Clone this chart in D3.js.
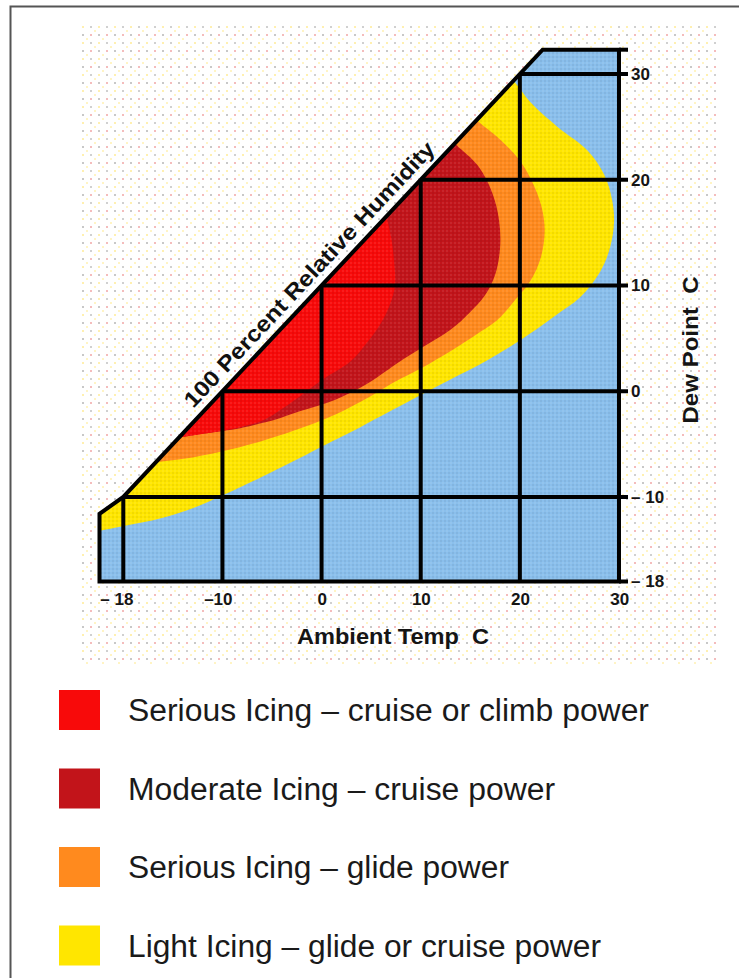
<!DOCTYPE html>
<html><head><meta charset="utf-8">
<script src="https://cdn.jsdelivr.net/npm/d3@7"></script>
<style>
body{margin:0;background:#fff}
svg{display:block}
text{font-family:"Liberation Sans",Arial,Helvetica,sans-serif}
</style>
</head><body>
<svg id="chart" width="739" height="978"></svg>
<script>
// ---------- data ----------
const xDomain = [-22.4, 30];
const yDomain = [-18, 32.3];
const xTickValues = [-20, -10, 0, 10, 20, 30];
const xTickLabels = ["\u2013 18", "\u201310", "0", "10", "20", "30"];
const yTickValues = [-18, -10, 0, 10, 20, 30];
const yTickLabels = ["\u2013 18", "\u2013 10", "0", "10", "20", "30"];
// chart outline (ambient temp, dew point)
const frame = [[-22.4, -18], [-22.4, -11.6], [-20, -10], [22.3, 32.3], [30, 32.3], [30, -18]];
// zone outer boundaries (ambient temp, dew point), from upper diagonal to lower-left
const yellowEdge = [[18.5,30.2],[19.6,29.1],[21.0,27.4],[23.8,25.0],[26.8,22.8],[28.5,20.5],[29.3,18.1],[29.5,16.0],[29.1,13.6],[28.1,11.3],[26.1,8.9],[23.5,7.1],[20.0,4.8],[16.5,2.8],[13.0,1.1],[9.9,-0.4],[6.9,-1.9],[3.9,-3.4],[0.1,-5.2],[-3.2,-6.8],[-6.0,-8.1],[-10.1,-9.9],[-12.8,-11.0],[-16.1,-12.0],[-20.2,-12.8],[-23.5,-13.4]];
const orangeEdge = [[15.0,26.2],[15.8,25.5],[18.0,23.8],[20.0,21.8],[21.3,19.7],[22.2,17.4],[22.5,15.1],[22.1,12.6],[21.1,10.5],[19.5,8.6],[17.7,6.7],[15.5,5.3],[13.2,3.9],[10.1,2.2],[7.4,0.9],[4.9,-0.5],[1.4,-2.2],[-2.7,-3.7],[-6.0,-4.7],[-10.1,-5.7],[-13.9,-6.4],[-16.5,-6.7],[-17.8,-6.8]];
const darkRedEdge = [[13.0,23.8],[13.7,23.2],[15.8,21.3],[17.2,18.8],[17.9,16.2],[18.0,13.5],[17.5,11.0],[16.5,9.1],[15.0,7.5],[13.0,5.8],[10.1,4.1],[7.9,2.8],[4.6,0.7],[1.4,-0.8],[-2.2,-1.9],[-4.7,-2.7],[-6.0,-3.0],[-8.2,-3.5],[-11.8,-4.0],[-14.5,-4.4],[-15.8,-4.6]];
const redEdge = [[5.9,17.0],[6.5,16.4],[7.0,14.6],[7.3,12.4],[7.4,10.0],[6.9,8.2],[5.9,6.3],[4.6,4.6],[2.9,2.8],[0.1,1.1],[-2.2,-0.5],[-4.2,-1.8],[-6.0,-2.8],[-8.2,-3.4],[-11.8,-4.0],[-14.5,-4.4],[-15.8,-4.6]];
const zoneEdges = [yellowEdge, orangeEdge, darkRedEdge, redEdge];
const zoneColors = ["#ffe600", "#ff8a1e", "#c2141a", "#f80a0a"];
const backgroundColor = "#8abfec";
const legendLabels = ["Serious Icing \u2013 cruise or climb power", "Moderate Icing \u2013 cruise power", "Serious Icing \u2013 glide power", "Light Icing \u2013 glide or cruise power"];
const legendColors = ["#f80a0a", "#c2141a", "#ff8a1e", "#ffe600"];
const legendWidths = [521, 427, 381, 473];

// ---------- drawing ----------
const svg = d3.select("#chart");
const x = d3.scaleLinear().domain(xDomain).range([99.5, 619]);
const y = d3.scaleLinear().domain(yDomain).range([581.5, 49.7]);

// outer border
svg.append("path").attr("d", "M10.5,978V6.5H739").attr("fill", "none").attr("stroke", "#555").attr("stroke-width", 2);

// dotted backdrop
const defs = svg.append("defs");
const pat = defs.append("pattern").attr("id", "dots").attr("patternUnits", "userSpaceOnUse")
  .attr("width", 16).attr("height", 16);
[[2,2,"#c8c8c8"],[10,2,"#f4bcbc"],[2,10,"#fff0b0"],[10,10,"#d0d0d0"],[6,6,"#fff4c4"],[14,14,"#fff4c4"]]
  .forEach(([cx, cy, c]) => pat.append("rect").attr("x", cx).attr("y", cy).attr("width", 2).attr("height", 2).attr("fill", c));
svg.append("rect").attr("x", 80).attr("y", 24).attr("width", 638).attr("height", 640).attr("fill", "url(#dots)");

const line = d3.line().x(d => x(d[0])).y(d => y(d[1]));
defs.append("clipPath").attr("id", "frameClip").append("path").attr("d", line(frame) + "Z");

const plot = svg.append("g").attr("clip-path", "url(#frameClip)");
plot.append("path").attr("d", line(frame) + "Z").attr("fill", backgroundColor);

const smooth = d3.line().x(d => x(d[0])).y(d => y(d[1])).curve(d3.curveCatmullRom.alpha(0.5));
zoneEdges.forEach((pts, i) => {
  const first = pts[0], last = pts[pts.length - 1];
  const farT = xDomain[0] - 10, farD = yDomain[1] + 15;
  const d = smooth(pts) + `L${x(farT)},${y(last[1])}L${x(farT)},${y(farD)}L${x(first[0])},${y(farD)}Z`;
  plot.append("path").attr("d", d).attr("fill", zoneColors[i]);
});

// subtle halftone texture over the plot
const tex = defs.append("pattern").attr("id", "tex").attr("patternUnits", "userSpaceOnUse").attr("width", 4).attr("height", 4);
tex.append("rect").attr("x", 0).attr("y", 0).attr("width", 2).attr("height", 2).attr("fill", "#000").attr("opacity", 0.05);
tex.append("rect").attr("x", 2).attr("y", 2).attr("width", 2).attr("height", 2).attr("fill", "#fff").attr("opacity", 0.08);
plot.append("path").attr("d", line(frame) + "Z").attr("fill", "url(#tex)");

// grid lines
const gridG = svg.append("g").attr("stroke", "#000").attr("stroke-width", 4).attr("stroke-linecap", "butt");
const tickLen = 9;
yTickValues.filter(v => v > yDomain[0]).forEach(v => {
  gridG.append("line").attr("x1", x(v - 10)).attr("x2", x(xDomain[1]) + tickLen).attr("y1", y(v)).attr("y2", y(v));
});
gridG.append("line").attr("x1", x(xDomain[1])).attr("x2", x(xDomain[1]) + tickLen).attr("y1", y(yDomain[1])).attr("y2", y(yDomain[1]));
gridG.append("line").attr("x1", x(xDomain[1])).attr("x2", x(xDomain[1]) + tickLen).attr("y1", y(yDomain[0])).attr("y2", y(yDomain[0]));
xTickValues.filter(v => v < xDomain[1]).forEach(v => {
  gridG.append("line").attr("x1", x(v)).attr("x2", x(v)).attr("y1", y(yDomain[0])).attr("y2", y(v + 10));
});
svg.append("path").attr("d", line(frame) + "Z").attr("fill", "none").attr("stroke", "#000").attr("stroke-width", 4).attr("stroke-linejoin", "miter");

// right axis labels
const yAxis = d3.axisRight(y).tickValues(yTickValues).tickFormat((d, i) => yTickLabels[i]).tickSize(0).tickPadding(12);
const ya = svg.append("g").attr("transform", `translate(${x(xDomain[1])},0)`).call(yAxis);
ya.select(".domain").remove();
ya.selectAll("text").attr("font-size", 17).attr("font-weight", "bold").attr("fill", "#151515").style("white-space", "pre")
  .attr("font-family", "'Liberation Sans',Arial,sans-serif");

// bottom axis labels
const xAxis = d3.axisBottom(x).tickValues(xTickValues).tickFormat((d, i) => xTickLabels[i]).tickSize(0).tickPadding(11);
const xa = svg.append("g").attr("transform", `translate(0,${y(yDomain[0])})`).call(xAxis);
xa.select(".domain").remove();
xa.selectAll("text").attr("font-size", 17).attr("font-weight", "bold").attr("fill", "#151515").style("white-space", "pre")
  .attr("font-family", "'Liberation Sans',Arial,sans-serif")
  .attr("text-anchor", "end")
  .attr("dx", (d, i) => xTickLabels[i].replace(/[^0-9]/g, "").length * 4.8);

// axis titles
svg.append("text").attr("x", 393).attr("y", 644).attr("text-anchor", "middle")
  .attr("font-size", 22).attr("font-weight", "bold").attr("fill", "#151515").style("white-space", "pre")
  .attr("textLength", 192).attr("lengthAdjust", "spacingAndGlyphs")
  .text("Ambient Temp  C");
svg.append("text").attr("transform", `translate(698,350) rotate(-90)`).attr("text-anchor", "middle")
  .attr("font-size", 22).attr("font-weight", "bold").attr("fill", "#151515").style("white-space", "pre")
  .attr("textLength", 147).attr("lengthAdjust", "spacingAndGlyphs")
  .text("Dew Point  C");

// diagonal label
const p0 = [x(-20), y(-10)], p1 = [x(20), y(30)];
const len = Math.hypot(p1[0] - p0[0], p1[1] - p0[1]);
const u = [(p1[0] - p0[0]) / len, (p1[1] - p0[1]) / len];
const n = [u[1], -u[0]];
const along = 112, off = 9;
const sx = p0[0] + u[0] * along + n[0] * off, sy = p0[1] + u[1] * along + n[1] * off;
const ang = Math.atan2(u[1], u[0]) * 180 / Math.PI;
svg.append("text").attr("transform", `translate(${sx},${sy}) rotate(${ang})`)
  .attr("font-size", 22).attr("font-weight", "bold").attr("fill", "#111")
  .attr("textLength", 355).attr("lengthAdjust", "spacingAndGlyphs")
  .text("100 Percent Relative Humidity");

// legend
const lg = svg.append("g");
legendLabels.forEach((lab, i) => {
  const yy = 690 + i * 78.5;
  lg.append("rect").attr("x", 59).attr("y", yy).attr("width", 41).attr("height", 40).attr("fill", legendColors[i]);
  lg.append("text").attr("x", 128).attr("y", yy + 31).attr("font-size", 31).attr("fill", "#1a1a1a")
    .attr("textLength", legendWidths[i]).attr("lengthAdjust", "spacingAndGlyphs").text(lab);
});
</script>
</body></html>
